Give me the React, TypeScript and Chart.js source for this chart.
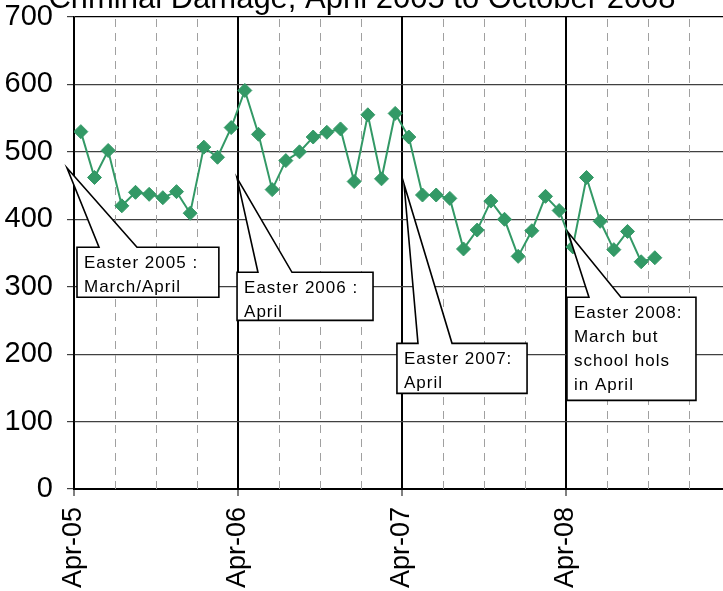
import React, { useEffect, useRef } from 'react';
import { Chart, registerables } from 'chart.js';

Chart.register(...registerables);

// ---- Data ----
const months = [
  'Apr-05', 'May-05', 'Jun-05', 'Jul-05', 'Aug-05', 'Sep-05', 'Oct-05', 'Nov-05', 'Dec-05', 'Jan-06', 'Feb-06', 'Mar-06',
  'Apr-06', 'May-06', 'Jun-06', 'Jul-06', 'Aug-06', 'Sep-06', 'Oct-06', 'Nov-06', 'Dec-06', 'Jan-07', 'Feb-07', 'Mar-07',
  'Apr-07', 'May-07', 'Jun-07', 'Jul-07', 'Aug-07', 'Sep-07', 'Oct-07', 'Nov-07', 'Dec-07', 'Jan-08', 'Feb-08', 'Mar-08',
  'Apr-08', 'May-08', 'Jun-08', 'Jul-08', 'Aug-08', 'Sep-08', 'Oct-08',
];
const criminalDamage = [
  530, 462, 502, 420, 440, 437, 432, 441, 409, 507, 492, 536,
  591, 526, 444, 487, 500, 522, 529, 534, 456, 555, 460, 557,
  522, 436, 436, 431, 356, 384, 427, 400, 345, 383, 434, 413,
  359, 462, 397, 355, 382, 337, 343,
];
const yearTickLabels = ['Apr-05', 'Apr-06', 'Apr-07', 'Apr-08'];
const yTickValues = [0, 100, 200, 300, 400, 500, 600, 700];
const chartTitle = 'Criminal Damage, April 2005 to October 2008';
const calloutTexts = [
  ['Easter 2005 :', 'March/April'],
  ['Easter 2006 :', 'April'],
  ['Easter 2007:', 'April'],
  ['Easter 2008:', 'March but', 'school hols', 'in April'],
];

// ---- Layout (annotation geometry, in axis units: months / values) ----
const calloutGeom = [
  { tip: [-0.51, 476], base: [1.83, 4.61], box: [0.22, 10.6, 358.5, 284.3] },
  { tip: [11.93, 461], base: [13.46, 15.95], box: [11.93, 21.88, 321.4, 250.1] },
  { tip: [24.15, 452], base: [25.17, 27.66], box: [23.63, 33.15, 216, 141.8] },
  { tip: [36.15, 380.8], base: [37.68, 40.02], box: [36.07, 45.51, 284.3, 131.4] },
];
const GREEN = '#339966';
const FONT = '"Liberation Sans", Arial, sans-serif';
const MONTHS_SPAN = 48;

const minorGridPlugin = {
  id: 'minorGrid',
  beforeDatasetsDraw(chart: any) {
    const { ctx, chartArea, scales } = chart;
    const x = scales.x;
    ctx.save();
    ctx.strokeStyle = '#a0a0a0';
    ctx.lineWidth = 1;
    ctx.setLineDash([8, 6]);
    for (let m = 3; m < MONTHS_SPAN; m += 3) {
      if (m % 12 === 0) continue;
      const px = Math.round(x.getPixelForValue(m)) + 0.5;
      ctx.beginPath();
      ctx.moveTo(px, chartArea.bottom);
      ctx.lineTo(px, chartArea.top);
      ctx.stroke();
    }
    ctx.restore();
  },
};

const calloutPlugin = {
  id: 'callouts',
  afterDatasetsDraw(chart: any) {
    const { ctx, scales } = chart;
    const sx = scales.x;
    const sy = scales.y;
    ctx.save();
    calloutGeom.forEach((g, i) => {
      const left = sx.getPixelForValue(g.box[0]);
      const right = sx.getPixelForValue(g.box[1]);
      const top = sy.getPixelForValue(g.box[2]);
      const bottom = sy.getPixelForValue(g.box[3]);
      const tx = sx.getPixelForValue(g.tip[0]);
      const ty = sy.getPixelForValue(g.tip[1]);
      const ba = sx.getPixelForValue(g.base[0]);
      const bb = sx.getPixelForValue(g.base[1]);
      ctx.beginPath();
      ctx.moveTo(left, top);
      ctx.lineTo(ba, top);
      ctx.lineTo(tx, ty);
      ctx.lineTo(bb, top);
      ctx.lineTo(right, top);
      ctx.lineTo(right, bottom);
      ctx.lineTo(left, bottom);
      ctx.closePath();
      ctx.fillStyle = '#ffffff';
      ctx.fill();
      ctx.lineWidth = 1.6;
      ctx.strokeStyle = '#000000';
      ctx.setLineDash([]);
      ctx.stroke();
      ctx.fillStyle = '#000000';
      ctx.font = `17px ${FONT}`;
      (ctx as any).letterSpacing = '1px';
      ctx.textAlign = 'left';
      ctx.textBaseline = 'alphabetic';
      calloutTexts[i].forEach((line, j) => {
        ctx.fillText(line, left + 7, top + 21 + j * 24);
      });
      (ctx as any).letterSpacing = '0px';
    });
    ctx.restore();
  },
};

const titlePlugin = {
  id: 'clippedTitle',
  afterDraw(chart: any) {
    const { ctx } = chart;
    ctx.save();
    ctx.fillStyle = '#000000';
    ctx.font = `31px ${FONT}`;
    ctx.textAlign = 'center';
    ctx.textBaseline = 'alphabetic';
    ctx.fillText(chartTitle, 362, 38);
    ctx.restore();
  },
};

export default function App() {
  const ref = useRef<HTMLCanvasElement>(null);
  useEffect(() => {
    const canvas = ref.current;
    if (!canvas) return;
    const chart = new Chart(canvas, {
      type: 'line',
      data: {
        labels: months,
        datasets: [
          {
            label: 'Criminal damage',
            data: criminalDamage.map((v, i) => ({ x: i + 0.5, y: v })),
            borderColor: GREEN,
            backgroundColor: GREEN,
            borderWidth: 2,
            pointStyle: 'rectRot',
            pointRadius: 7,
            pointBorderWidth: 1,
            pointBackgroundColor: GREEN,
            pointBorderColor: GREEN,
            tension: 0,
          },
        ],
      },
      options: {
        responsive: false,
        animation: false,
        devicePixelRatio: 1,
        layout: { padding: { top: 47, left: 0, right: 10, bottom: 0 } },
        plugins: {
          legend: { display: false },
          tooltip: { enabled: false },
          title: { display: false },
        },
        scales: {
          x: {
            type: 'linear',
            min: 0,
            max: MONTHS_SPAN,
            afterBuildTicks: (s: any) => {
              s.ticks = [0, 12, 24, 36, 48].map((v) => ({ value: v }));
            },
            afterFit: (s: any) => {
              s.height = 102;
              s.paddingLeft = 0;
              s.paddingRight = 0;
            },
            ticks: {
              autoSkip: false,
              minRotation: 90,
              maxRotation: 90,
              color: '#000',
              padding: 11,
              font: { family: FONT, size: 27 },
              callback: (v: any) => yearTickLabels[Number(v) / 12] ?? '',
            },
            grid: {
              color: '#000',
              lineWidth: 2,
              tickLength: 7,
              tickColor: '#000',
              tickWidth: 1,
            },
            border: { display: true, color: '#000', width: 2 },
          },
          y: {
            min: 0,
            max: 700,
            afterBuildTicks: (s: any) => {
              s.ticks = yTickValues.map((v) => ({ value: v }));
            },
            afterFit: (s: any) => {
              s.width = 74;
              s.paddingTop = 0;
              s.paddingBottom = 0;
            },
            ticks: {
              color: '#000',
              padding: 14,
              font: { family: FONT, size: 29 },
            },
            grid: {
              color: (c: any) => (c.tick && c.tick.value === 700 ? '#000' : '#404040'),
              lineWidth: 1.2,
              tickLength: 7,
              tickColor: '#404040',
            },
            border: { display: true, color: '#000', width: 1.5 },
          },
        },
      },
      plugins: [minorGridPlugin, calloutPlugin, titlePlugin],
    } as any);
    return () => chart.destroy();
  }, []);

  return (
    <div style={{ position: 'fixed', left: 0, top: -30, width: 740, height: 621 }}>
      <canvas ref={ref} width={740} height={621} style={{ width: 740, height: 621, display: 'block' }} />
    </div>
  );
}
